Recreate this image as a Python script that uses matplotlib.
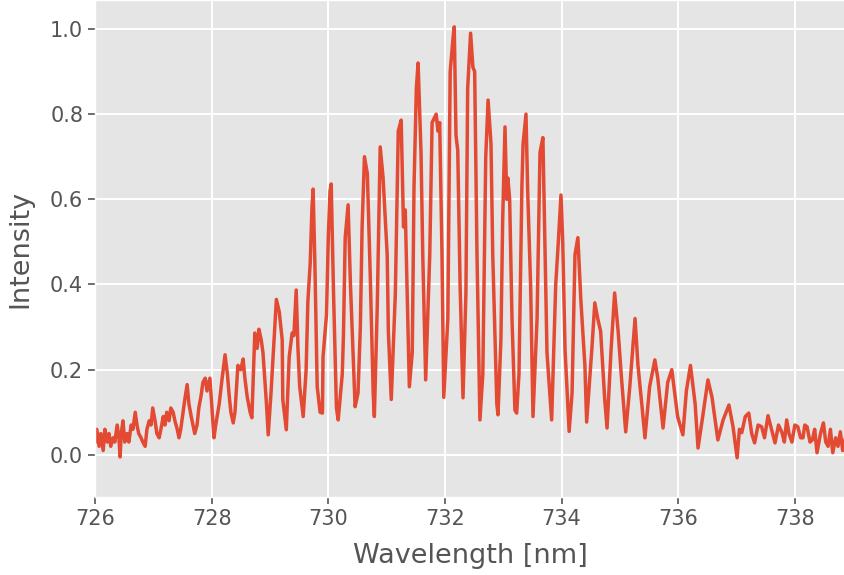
import matplotlib
matplotlib.use("Agg")
import matplotlib.pyplot as plt

# spectrum
wavelength = [
    726.00, 726.03, 726.07, 726.10, 726.14, 726.17, 726.21, 726.24, 726.27, 726.31,
    726.34, 726.38, 726.41, 726.43, 726.45, 726.48, 726.51, 726.55, 726.58, 726.62,
    726.65, 726.69, 726.72, 726.75, 726.79, 726.82, 726.86, 726.89, 726.93, 726.96,
    726.99, 727.03, 727.06, 727.10, 727.13, 727.17, 727.20, 727.23, 727.27, 727.30,
    727.34, 727.37, 727.41, 727.44, 727.47, 727.51, 727.54, 727.58, 727.61, 727.65,
    727.68, 727.71, 727.75, 727.78, 727.82, 727.85, 727.89, 727.92, 727.97, 728.01,
    728.04, 728.07, 728.13, 728.18, 728.23, 728.27, 728.30, 728.33, 728.37, 728.40,
    728.45, 728.50, 728.54, 728.57, 728.61, 728.66, 728.69, 728.74, 728.78, 728.81,
    728.85, 728.88, 728.94, 728.97, 729.02, 729.06, 729.11, 729.16, 729.21, 729.22,
    729.28, 729.33, 729.38, 729.41, 729.45, 729.48, 729.51, 729.57, 729.62, 729.65,
    729.69, 729.72, 729.74, 729.77, 729.81, 729.86, 729.90, 729.91, 729.97, 730.00,
    730.03, 730.05, 730.09, 730.14, 730.17, 730.24, 730.26, 730.29, 730.34, 730.38,
    730.43, 730.46, 730.51, 730.55, 730.58, 730.62, 730.67, 730.72, 730.77, 730.79,
    730.84, 730.89, 730.94, 731.01, 731.03, 731.08, 731.15, 731.20, 731.25, 731.29,
    731.32, 731.35, 731.39, 731.44, 731.47, 731.51, 731.54, 731.59, 731.62, 731.67,
    731.74, 731.78, 731.85, 731.88, 731.91, 731.95, 731.98, 732.05, 732.09, 732.14,
    732.16, 732.19, 732.22, 732.26, 732.31, 732.36, 732.39, 732.44, 732.48, 732.51,
    732.55, 732.60, 732.65, 732.70, 732.74, 732.79, 732.82, 732.89, 732.91, 732.96,
    732.99, 733.03, 733.06, 733.08, 733.11, 733.15, 733.20, 733.23, 733.27, 733.32,
    733.34, 733.39, 733.42, 733.47, 733.51, 733.58, 733.63, 733.68, 733.70, 733.75,
    733.83, 733.90, 733.94, 733.99, 734.02, 734.06, 734.13, 734.18, 734.23, 734.28,
    734.33, 734.40, 734.43, 734.52, 734.57, 734.62, 734.67, 734.74, 734.78, 734.85,
    734.91, 734.97, 735.03, 735.10, 735.17, 735.26, 735.31, 735.38, 735.43, 735.51,
    735.60, 735.65, 735.74, 735.82, 735.89, 735.99, 736.08, 736.14, 736.21, 736.29,
    736.34, 736.42, 736.51, 736.58, 736.68, 736.77, 736.87, 736.94, 737.01, 737.05,
    737.09, 737.15, 737.21, 737.26, 737.31, 737.37, 737.43, 737.48, 737.54, 737.60,
    737.66, 737.72, 737.78, 737.82, 737.86, 737.90, 737.95, 738.00, 738.05, 738.10,
    738.14, 738.17, 738.21, 738.26, 738.30, 738.34, 738.38, 738.44, 738.49, 738.53,
    738.57, 738.61, 738.65, 738.70, 738.74, 738.78, 738.82, 738.86,
]
intensity = [
    0.03, 0.06, 0.02, 0.05, 0.01, 0.06, 0.03, 0.05, 0.02, 0.04,
    0.03, 0.07, 0.04, -0.005, 0.05, 0.08, 0.03, 0.05, 0.03, 0.07,
    0.06, 0.10, 0.07, 0.05, 0.04, 0.03, 0.02, 0.06, 0.08, 0.07,
    0.11, 0.08, 0.05, 0.04, 0.06, 0.09, 0.07, 0.10, 0.08, 0.11,
    0.10, 0.08, 0.06, 0.04, 0.06, 0.10, 0.13, 0.165, 0.12, 0.09,
    0.07, 0.05, 0.07, 0.11, 0.14, 0.17, 0.18, 0.15, 0.18, 0.10,
    0.04, 0.07, 0.12, 0.18, 0.235, 0.19, 0.14, 0.10, 0.075, 0.10,
    0.21, 0.20, 0.225, 0.18, 0.136, 0.10, 0.087, 0.286, 0.25, 0.295,
    0.27, 0.24, 0.12, 0.047, 0.15, 0.246, 0.365, 0.335, 0.27, 0.13,
    0.059, 0.23, 0.286, 0.28, 0.387, 0.25, 0.16, 0.09, 0.20, 0.36,
    0.45, 0.58, 0.624, 0.45, 0.16, 0.10, 0.098, 0.23, 0.33, 0.51,
    0.62, 0.636, 0.38, 0.11, 0.082, 0.19, 0.28, 0.51, 0.587, 0.40,
    0.22, 0.113, 0.145, 0.30, 0.535, 0.70, 0.66, 0.42, 0.145, 0.09,
    0.35, 0.723, 0.65, 0.47, 0.29, 0.13, 0.38, 0.76, 0.786, 0.535,
    0.575, 0.395, 0.16, 0.24, 0.63, 0.86, 0.92, 0.71, 0.47, 0.176,
    0.47, 0.78, 0.80, 0.76, 0.78, 0.47, 0.135, 0.32, 0.90, 0.98,
    1.005, 0.75, 0.715, 0.40, 0.134, 0.38, 0.86, 0.99, 0.91, 0.90,
    0.47, 0.082, 0.19, 0.70, 0.833, 0.73, 0.47, 0.12, 0.094, 0.27,
    0.55, 0.77, 0.60, 0.65, 0.60, 0.32, 0.105, 0.098, 0.19, 0.63,
    0.73, 0.80, 0.615, 0.395, 0.09, 0.32, 0.71, 0.745, 0.60, 0.24,
    0.082, 0.40, 0.49, 0.61, 0.50, 0.245, 0.055, 0.145, 0.47, 0.51,
    0.365, 0.21, 0.077, 0.25, 0.357, 0.32, 0.29, 0.13, 0.063, 0.25,
    0.38, 0.29, 0.176, 0.054, 0.16, 0.32, 0.21, 0.113, 0.04, 0.16,
    0.223, 0.18, 0.063, 0.17, 0.20, 0.09, 0.047, 0.15, 0.21, 0.12,
    0.016, 0.09, 0.176, 0.135, 0.035, 0.082, 0.117, 0.066, -0.007, 0.06,
    0.052, 0.09, 0.098, 0.05, 0.028, 0.07, 0.066, 0.04, 0.092, 0.06,
    0.028, 0.07, 0.052, 0.03, 0.082, 0.05, 0.03, 0.07, 0.066, 0.04,
    0.04, 0.07, 0.066, 0.03, 0.035, 0.06, 0.005, 0.05, 0.075, 0.03,
    0.02, 0.06, 0.005, 0.04, 0.02, 0.054, 0.01, 0.035,
]

plt.style.use("ggplot")
plt.rcParams["grid.linewidth"] = 1.4
fig = plt.figure(figsize=(8.45, 5.75), dpi=100)
ax = fig.add_axes([95 / 845, 78 / 575, 750 / 845, 497 / 575])
ax.plot(wavelength, intensity, color="#E24A33", linewidth=2.5)

ax.set_xlim(726, 738.86)
ax.set_ylim(-0.099, 1.068)
ax.set_xticks([726, 728, 730, 732, 734, 736, 738])
ax.set_yticks([0.0, 0.2, 0.4, 0.6, 0.8, 1.0])
ax.tick_params(labelsize=15, length=5, width=1.2)
ax.set_xlabel("Wavelength [nm]", fontsize=19.5, labelpad=10)
ax.set_ylabel("Intensity", fontsize=19.5, labelpad=12)

fig.savefig("out.png", dpi=100)
